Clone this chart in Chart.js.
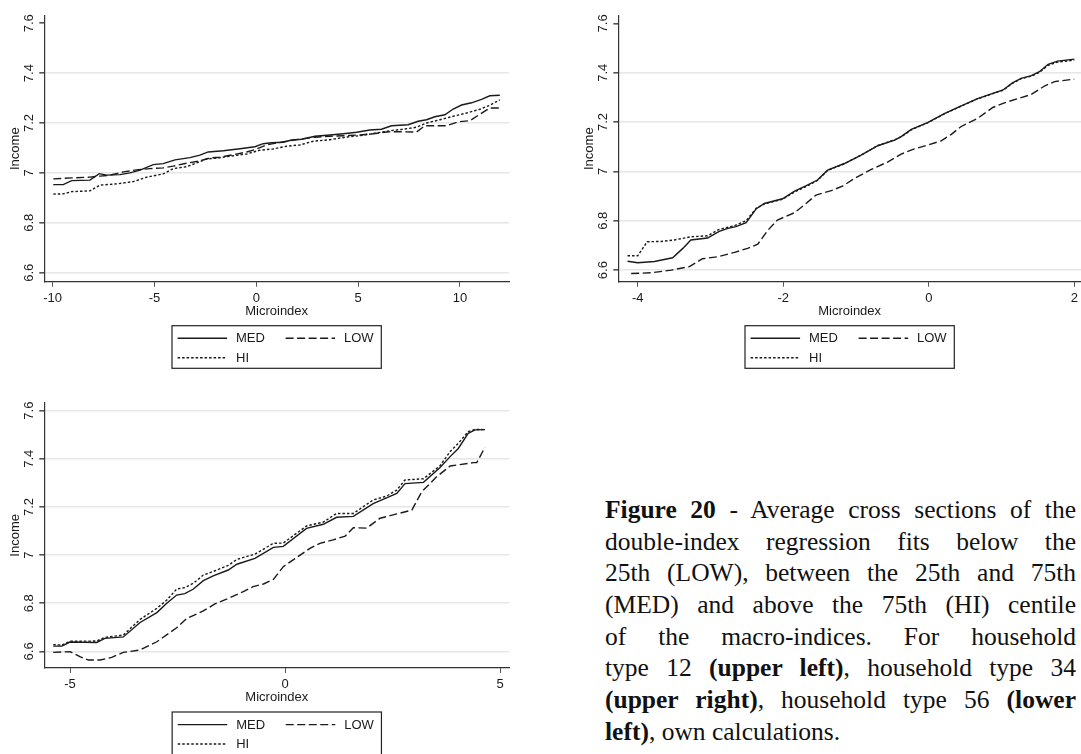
<!DOCTYPE html>
<html>
<head>
<meta charset="utf-8">
<title>Average cross sections of the double-index regression fits</title>
<script src="https://cdn.jsdelivr.net/npm/chart.js@4.4.1/dist/chart.umd.min.js"></script>
<style>
  html, body { margin: 0; padding: 0; background: #fff; }
  body { width: 1081px; height: 754px; position: relative; overflow: hidden; }
  canvas { position: absolute; }
  #c1 { left: 0; top: 0; }
  #c2 { left: 560px; top: 0; }
  #c3 { left: 0; top: 390px; }
  #caption {
    position: absolute; left: 605px; top: 493.8px; width: 471px;
    font-family: "Liberation Serif", serif; font-size: 25.5px; line-height: 31.7px; color: #111;
  }
  #caption div { text-align: justify; text-align-last: justify; }
  #caption div.last { text-align-last: left; }
</style>
</head>
<body>
<canvas id="c1" width="520" height="380"></canvas>
<canvas id="c2" width="521" height="380"></canvas>
<canvas id="c3" width="520" height="364"></canvas>
<div id="caption">
  <div><b>Figure 20</b> - Average cross sections of the</div>
  <div>double-index regression fits below the</div>
  <div>25th (LOW), between the 25th and 75th</div>
  <div>(MED) and above the 75th (HI) centile</div>
  <div>of the macro-indices. For household</div>
  <div>type 12 <b>(upper left)</b>, household type 34</div>
  <div><b>(upper right)</b>, household type 56 <b>(lower</b></div>
  <div class="last"><b>left)</b>, own calculations.</div>
</div>
<script>
const seriesLabels = ['MED', 'LOW', 'HI'];
const yTickValues = [6.6, 6.8, 7, 7.2, 7.4, 7.6];
const yTickLabels = ['6.6', '6.8', '7', '7.2', '7.4', '7.6'];

// household type 12: [microindex, income]
const type12Ticks = [-10, -5, 0, 5, 10];
const type12Med = [[-9.97, 6.953], [-9.48, 6.953], [-9.07, 6.969], [-8.17, 6.971], [-7.71, 6.997], [-7.35, 6.991],
  [-6.69, 6.993], [-6.2, 7.0], [-5.71, 7.011], [-5.06, 7.033], [-4.57, 7.037], [-3.99, 7.052], [-3.26, 7.061],
  [-2.77, 7.071], [-2.36, 7.084], [-1.62, 7.089], [-0.8, 7.097], [-0.07, 7.105], [0.34, 7.117], [0.75, 7.121],
  [1.33, 7.123], [1.73, 7.132], [2.23, 7.135], [2.88, 7.147], [3.62, 7.152], [4.27, 7.157], [4.93, 7.163],
  [5.58, 7.172], [6.15, 7.175], [6.64, 7.189], [7.46, 7.193], [7.95, 7.207], [8.36, 7.213], [8.77, 7.225],
  [9.26, 7.233], [9.67, 7.256], [10.08, 7.272], [10.57, 7.281], [11.06, 7.295], [11.47, 7.309], [11.96, 7.311]];
const type12Low = [[-9.97, 6.976], [-9.07, 6.98], [-8.17, 6.983], [-7.68, 6.987], [-7.18, 6.991], [-6.53, 7.004],
  [-5.88, 7.012], [-5.22, 7.017], [-4.57, 7.02], [-4.08, 7.027], [-3.42, 7.039], [-2.77, 7.048], [-2.27, 7.06],
  [-1.78, 7.063], [-1.13, 7.073], [-0.47, 7.084], [-0.07, 7.093], [0.51, 7.112], [1.0, 7.12], [1.65, 7.129],
  [2.23, 7.136], [2.88, 7.143], [3.62, 7.147], [4.27, 7.149], [5.09, 7.152], [5.74, 7.157], [6.4, 7.164],
  [6.89, 7.165], [7.87, 7.164], [8.28, 7.189], [9.35, 7.189], [9.92, 7.205], [10.49, 7.209], [10.98, 7.235],
  [11.47, 7.26], [11.96, 7.26]];
const type12Hi = [[-9.97, 6.915], [-9.48, 6.916], [-9.07, 6.925], [-8.17, 6.928], [-7.68, 6.951], [-6.86, 6.956],
  [-6.04, 6.965], [-5.38, 6.983], [-4.57, 6.996], [-4.08, 7.017], [-3.42, 7.025], [-2.93, 7.04], [-2.44, 7.056],
  [-1.78, 7.061], [-1.13, 7.069], [-0.47, 7.076], [0.18, 7.091], [0.83, 7.096], [1.49, 7.107], [2.14, 7.112],
  [2.8, 7.127], [3.62, 7.133], [4.44, 7.144], [5.09, 7.149], [5.91, 7.16], [6.56, 7.169], [7.22, 7.175],
  [7.87, 7.183], [8.36, 7.2], [9.02, 7.213], [9.67, 7.227], [10.33, 7.24], [10.98, 7.255], [11.47, 7.271],
  [11.96, 7.293]];

// household type 34
const type34Ticks = [-4, -2, 0, 2];
const type34Med = [[-4.14, 6.636], [-4.0, 6.63], [-3.77, 6.635], [-3.52, 6.65], [-3.38, 6.688], [-3.27, 6.722],
  [-3.04, 6.73], [-2.88, 6.757], [-2.76, 6.769], [-2.65, 6.776], [-2.51, 6.792], [-2.37, 6.849], [-2.26, 6.87],
  [-2.01, 6.889], [-1.85, 6.919], [-1.69, 6.941], [-1.53, 6.965], [-1.39, 7.005], [-1.16, 7.032], [-0.93, 7.066],
  [-0.7, 7.104], [-0.47, 7.127], [-0.38, 7.141], [-0.24, 7.17], [-0.01, 7.199], [0.22, 7.235], [0.44, 7.265],
  [0.67, 7.295], [0.86, 7.314], [1.02, 7.33], [1.15, 7.359], [1.27, 7.377], [1.41, 7.388], [1.52, 7.404],
  [1.64, 7.434], [1.77, 7.447], [2.0, 7.455]];
const type34Low = [[-4.09, 6.586], [-3.82, 6.589], [-3.54, 6.6], [-3.29, 6.614], [-3.11, 6.646], [-2.9, 6.654],
  [-2.67, 6.672], [-2.49, 6.688], [-2.35, 6.705], [-2.21, 6.762], [-2.08, 6.803], [-1.85, 6.832], [-1.71, 6.864],
  [-1.55, 6.904], [-1.34, 6.922], [-1.18, 6.941], [-1.02, 6.972], [-0.79, 7.008], [-0.56, 7.039], [-0.38, 7.07],
  [-0.2, 7.091], [-0.01, 7.107], [0.17, 7.124], [0.31, 7.15], [0.44, 7.181], [0.67, 7.215], [0.88, 7.259],
  [1.04, 7.278], [1.27, 7.299], [1.41, 7.312], [1.59, 7.346], [1.73, 7.364], [2.0, 7.374]];
const type34Hi = [[-4.14, 6.658], [-4.0, 6.658], [-3.87, 6.715], [-3.68, 6.716], [-3.5, 6.722], [-3.27, 6.735],
  [-3.04, 6.739], [-2.88, 6.765], [-2.67, 6.78], [-2.51, 6.8], [-2.37, 6.851], [-2.26, 6.868], [-2.01, 6.887],
  [-1.85, 6.916], [-1.69, 6.938], [-1.53, 6.963], [-1.39, 7.004], [-1.16, 7.031], [-0.93, 7.066], [-0.7, 7.105],
  [-0.47, 7.128], [-0.38, 7.14], [-0.24, 7.168], [-0.01, 7.198], [0.22, 7.234], [0.44, 7.264], [0.67, 7.294],
  [0.86, 7.313], [1.02, 7.329], [1.15, 7.357], [1.27, 7.376], [1.41, 7.386], [1.52, 7.401], [1.64, 7.43],
  [1.77, 7.443], [2.0, 7.451]];

// household type 56
const type56Ticks = [-5, 0, 5];
const type56Med = [[-5.39, 6.622], [-5.19, 6.622], [-5.0, 6.639], [-4.38, 6.637], [-4.19, 6.654], [-3.76, 6.66],
  [-3.37, 6.72], [-2.98, 6.761], [-2.75, 6.8], [-2.52, 6.834], [-2.33, 6.84], [-2.13, 6.859], [-1.9, 6.894],
  [-1.67, 6.914], [-1.32, 6.938], [-1.12, 6.962], [-0.7, 6.986], [-0.27, 7.032], [-0.04, 7.036], [0.5, 7.111],
  [0.89, 7.128], [1.2, 7.157], [1.59, 7.161], [2.05, 7.214], [2.36, 7.238], [2.6, 7.256], [2.79, 7.297],
  [3.22, 7.302], [3.6, 7.363], [3.84, 7.409], [4.03, 7.443], [4.26, 7.506], [4.42, 7.52], [4.65, 7.521]];
const type56Low = [[-5.39, 6.596], [-5.0, 6.599], [-4.77, 6.578], [-4.57, 6.564], [-4.3, 6.564], [-4.03, 6.575],
  [-3.76, 6.596], [-3.37, 6.606], [-2.98, 6.64], [-2.52, 6.698], [-2.29, 6.736], [-1.9, 6.768], [-1.63, 6.797],
  [-1.36, 6.817], [-0.97, 6.848], [-0.74, 6.869], [-0.5, 6.88], [-0.27, 6.899], [-0.04, 6.952], [0.19, 6.98],
  [0.58, 7.028], [0.81, 7.049], [1.12, 7.063], [1.4, 7.079], [1.59, 7.114], [1.9, 7.112], [2.21, 7.153],
  [2.6, 7.171], [2.95, 7.187], [3.18, 7.263], [3.53, 7.326], [3.84, 7.37], [4.38, 7.384], [4.46, 7.384],
  [4.65, 7.448]];
const type56Hi = [[-5.39, 6.628], [-5.19, 6.626], [-5.0, 6.642], [-4.38, 6.643], [-4.19, 6.658], [-3.76, 6.668],
  [-3.37, 6.733], [-2.98, 6.779], [-2.75, 6.813], [-2.52, 6.859], [-2.33, 6.865], [-2.13, 6.883], [-1.9, 6.917],
  [-1.67, 6.932], [-1.32, 6.957], [-1.12, 6.982], [-0.7, 7.004], [-0.27, 7.049], [-0.04, 7.05], [0.5, 7.121],
  [0.89, 7.137], [1.2, 7.173], [1.59, 7.173], [2.05, 7.229], [2.36, 7.245], [2.6, 7.27], [2.79, 7.312],
  [3.22, 7.317], [3.6, 7.37], [3.84, 7.43], [4.03, 7.464], [4.26, 7.513], [4.42, 7.522], [4.65, 7.521]];

const FONT = '"Liberation Sans", Arial, sans-serif';
const INK = '#1a1a1a';
// solid, dashed, dotted - same order as seriesLabels
const lineDash = [[], [8, 3.5], [2.5, 2]];

const panels = [
  { id: 'c1', ticks: type12Ticks, series: [type12Med, type12Low, type12Hi],
    xMin: -10.41, xMax: 12.41, yMin: 6.564, yMax: 7.63, grid: [6.6, 6.8, 7, 7.2, 7.4],
    top: 15.7, right: 11, axisWidth: 44.3, axisHeight: 98.3 },
  { id: 'c2', ticks: type34Ticks, series: [type34Med, type34Low, type34Hi],
    xMin: -4.267, xMax: 2.092, yMin: 6.553, yMax: 7.631, grid: [6.6, 6.8, 7, 7.2, 7.4],
    top: 15.7, right: 0, axisWidth: 58.3, axisHeight: 98.3 },
  { id: 'c3', ticks: type56Ticks, series: [type56Med, type56Low, type56Hi],
    xMin: -5.598, xMax: 5.216, yMin: 6.531, yMax: 7.633, grid: [6.6, 6.8, 7, 7.2, 7.4, 7.6],
    top: 12.7, right: 10.7, axisWidth: 44.3, axisHeight: 86 }
];

// rotated y labels, axis titles and the boxed legend
const stataDecor = {
  id: 'stataDecor',
  afterDraw(chart) {
    const ctx = chart.ctx;
    const area = chart.chartArea;
    const yScale = chart.scales.y;
    ctx.save();
    ctx.fillStyle = INK;
    ctx.font = '13px ' + FONT;

    yTickValues.forEach((v, i) => {
      ctx.save();
      ctx.translate(area.left - 11, yScale.getPixelForValue(v));
      ctx.rotate(-Math.PI / 2);
      ctx.textAlign = 'center';
      ctx.textBaseline = 'alphabetic';
      ctx.fillText(yTickLabels[i], 0, 0);
      ctx.restore();
    });

    ctx.save();
    ctx.translate(area.left - 25.3, (area.top + area.bottom) / 2);
    ctx.rotate(-Math.PI / 2);
    ctx.textAlign = 'center';
    ctx.textBaseline = 'alphabetic';
    ctx.fillText('Income', 0, 0);
    ctx.restore();

    ctx.textAlign = 'center';
    ctx.textBaseline = 'alphabetic';
    ctx.fillText('Microindex', (area.left + area.right) / 2, area.bottom + 33.4);

    // legend: MED and LOW on the first row, HI below MED
    const boxW = 209.3, boxH = 42.6;
    const lx = (area.left + area.right) / 2 - boxW / 2;
    const ly = area.bottom + 44;
    ctx.strokeStyle = '#222';
    ctx.lineWidth = 1.2;
    ctx.strokeRect(lx, ly, boxW, boxH);

    const slots = [[0, 0], [1, 0], [0, 1]];
    chart.data.datasets.forEach((ds, i) => {
      const [col, row] = slots[i];
      const sx = lx + (col ? 113.6 : 5.6);
      const sy = ly + (row ? 32 : 12.6);
      ctx.beginPath();
      ctx.setLineDash(ds.borderDash);
      ctx.lineWidth = ds.borderWidth;
      ctx.strokeStyle = ds.borderColor;
      ctx.moveTo(sx, sy);
      ctx.lineTo(sx + 49.5, sy);
      ctx.stroke();
      ctx.setLineDash([]);
      ctx.textAlign = 'left';
      ctx.textBaseline = 'middle';
      ctx.fillText(ds.label, sx + 58.4, sy + 0.5);
    });
    ctx.restore();
  }
};

panels.forEach(p => {
  new Chart(document.getElementById(p.id), {
    type: 'line',
    data: {
      datasets: p.series.map((pts, i) => ({
        label: seriesLabels[i],
        data: pts.map(([x, y]) => ({ x: x, y: y })),
        borderColor: INK,
        borderWidth: 1.4,
        borderDash: lineDash[i],
        pointRadius: 0,
        tension: 0,
        fill: false
      }))
    },
    options: {
      responsive: false,
      animation: false,
      devicePixelRatio: 1,
      layout: { padding: { left: 0, top: p.top, right: p.right, bottom: 0 } },
      plugins: { legend: { display: false }, tooltip: { enabled: false } },
      scales: {
        x: {
          type: 'linear',
          min: p.xMin,
          max: p.xMax,
          afterBuildTicks: s => { s.ticks = p.ticks.map(v => ({ value: v })); },
          afterFit: s => { s.height = p.axisHeight; s.paddingLeft = 0; s.paddingRight = 0; },
          grid: { drawOnChartArea: false, drawTicks: true, tickLength: 5, color: '#555', tickColor: '#555', lineWidth: 1 },
          border: { color: '#333', width: 1.2 },
          ticks: { color: INK, font: { family: FONT, size: 13 }, padding: 4, maxRotation: 0, autoSkip: false,
                   callback: v => String(v) }
        },
        y: {
          min: p.yMin,
          max: p.yMax,
          afterBuildTicks: s => { s.ticks = yTickValues.map(v => ({ value: v })); },
          afterFit: s => { s.width = p.axisWidth; s.paddingTop = 0; s.paddingBottom = 0; },
          grid: {
            color: c => (c.tick && p.grid.includes(c.tick.value)) ? '#e6e6e6' : 'rgba(0,0,0,0)',
            lineWidth: 1.6, drawTicks: true, tickLength: 5, tickColor: '#555'
          },
          border: { color: '#333', width: 1.2 },
          ticks: { display: false }
        }
      }
    },
    plugins: [stataDecor]
  });
});
</script>
</body>
</html>
